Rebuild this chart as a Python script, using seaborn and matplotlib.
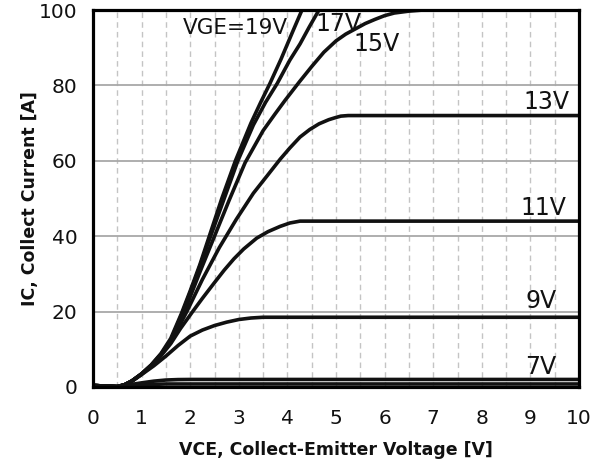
import numpy as np
import pandas as pd
import matplotlib
matplotlib.use("Agg")
import matplotlib.pyplot as plt
import seaborn as sns

# ---- data ----
vce_19 = [0, 0.25, 0.5, 0.65, 0.8, 1.0, 1.2, 1.4, 1.6, 1.82, 2.0, 2.2, 2.38, 2.65, 2.93, 3.25, 3.45, 3.64, 3.87, 4.1, 4.3]
ic_19 = [0.4, 0.25, 0.1, 0.6, 1.6, 3.5, 5.9, 8.9, 12.9, 19.5, 25.5, 32.5, 39.5, 50.0, 60.0, 70.0, 75.5, 80.5, 87.0, 94.0, 100.0]

vce_17 = [0, 0.25, 0.5, 0.65, 0.8, 1.0, 1.2, 1.4, 1.6, 1.85, 2.1, 2.42, 2.7, 2.98, 3.3, 3.55, 3.79, 4.05, 4.26, 4.45, 4.65]
ic_17 = [0.4, 0.25, 0.1, 0.6, 1.6, 3.5, 5.8, 8.7, 12.4, 20.0, 28.5, 40.0, 50.0, 60.0, 69.5, 75.5, 80.5, 86.7, 91.0, 95.5, 100.0]

vce_15 = [0, 0.25, 0.5, 0.65, 0.8, 1.0, 1.2, 1.4, 1.6, 1.88, 2.2, 2.5, 2.8, 3.13, 3.5, 3.75, 3.95, 4.25, 4.5, 4.75, 5.0, 5.2, 5.4, 5.6, 5.8, 6.0, 6.2, 6.5, 6.8, 10.0]
ic_15 = [0.4, 0.25, 0.1, 0.6, 1.6, 3.5, 5.8, 8.6, 12.1, 20.0, 30.5, 40.0, 49.5, 59.5, 68.0, 72.5, 76.0, 81.0, 85.0, 88.8, 91.8, 93.6, 95.0, 96.4, 97.5, 98.5, 99.2, 99.7, 100.0, 100.0]

vce_13 = [0, 0.25, 0.5, 0.65, 0.8, 1.0, 1.2, 1.4, 1.6, 1.93, 2.25, 2.6, 2.95, 3.3, 3.6, 3.85, 4.05, 4.26, 4.46, 4.65, 4.85, 5.0, 5.1, 5.25, 10.0]
ic_13 = [0.4, 0.25, 0.1, 0.6, 1.6, 3.4, 5.7, 8.5, 11.8, 20.0, 28.5, 37.0, 44.5, 51.4, 56.3, 60.4, 63.4, 66.3, 68.3, 69.8, 70.9, 71.5, 71.85, 72.0, 72.0]

vce_11 = [0, 0.25, 0.5, 0.65, 0.8, 1.0, 1.2, 1.4, 1.6, 1.8, 2.05, 2.25, 2.5, 2.7, 2.9, 3.1, 3.37, 3.6, 3.85, 4.05, 4.26, 10.0]
ic_11 = [0.4, 0.25, 0.1, 0.6, 1.6, 3.4, 5.6, 8.3, 11.5, 15.5, 20.0, 23.5, 27.7, 31.0, 34.0, 36.6, 39.5, 41.2, 42.6, 43.5, 44.0, 44.0]

vce_9 = [0, 0.25, 0.5, 0.65, 0.8, 1.0, 1.25, 1.5, 1.75, 2.0, 2.25, 2.5, 2.75, 3.0, 3.25, 3.5, 10.0]
ic_9 = [0.4, 0.25, 0.1, 0.6, 1.5, 3.3, 5.6, 8.2, 11.0, 13.5, 15.1, 16.3, 17.2, 17.9, 18.3, 18.5, 18.5]

vce_7 = [0, 0.25, 0.5, 0.75, 1.0, 1.25, 1.5, 1.75, 2.0, 10.0]
ic_7 = [0.4, 0.25, 0.1, 0.6, 1.1, 1.55, 1.85, 1.97, 2.0, 2.0]

vce_5 = [0, 0.25, 0.5, 0.75, 1.0, 1.5, 10.0]
ic_5 = [0.4, 0.25, 0.1, 0.4, 0.6, 0.8, 0.8]

curve_names = ["19V", "17V", "15V", "13V", "11V", "9V", "7V", "5V"]
curve_x = [vce_19, vce_17, vce_15, vce_13, vce_11, vce_9, vce_7, vce_5]
curve_y = [ic_19, ic_17, ic_15, ic_13, ic_11, ic_9, ic_7, ic_5]

label_texts = ["VGE=19V", "17V", "15V", "13V", "11V", "9V", "7V"]
label_x = [2.94, 5.04, 5.84, 9.32, 9.26, 9.22, 9.22]
label_y = [95.2, 96.3, 91.1, 75.7, 47.5, 22.7, 5.2]

x_ticks = list(range(0, 11))
y_ticks = [0, 20, 40, 60, 80, 100]
x_label = "VCE, Collect-Emitter Voltage [V]"
y_label = "IC, Collect Current [A]"

# ---- build long table ----
rows = []
for name, xs, ys in zip(curve_names, curve_x, curve_y):
    for i, (xv, yv) in enumerate(zip(xs, ys)):
        rows.append({"VGE": name, "VCE": xv, "IC": yv, "order": i})
df = pd.DataFrame(rows)

sns.set_theme(style="white")
plt.rcParams["font.family"] = ["DejaVu Sans"]
plt.rcParams["text.color"] = "#111111"
plt.rcParams["axes.labelcolor"] = "#111111"
plt.rcParams["xtick.color"] = "#111111"
plt.rcParams["ytick.color"] = "#111111"

fig = plt.figure(figsize=(5.93, 4.74), dpi=100)
ax = fig.add_axes([93 / 593, 1 - 387 / 474, 486 / 593, 377 / 474])

sns.lineplot(data=df, x="VCE", y="IC", hue="VGE", units="VGE", estimator=None,
             sort=False, palette=["#111111"] * len(curve_names), linewidth=2.6,
             legend=False, ax=ax, zorder=3)
for ln in ax.get_lines():
    ln.set_solid_joinstyle("round")
    ln.set_solid_capstyle("round")

ax.set_xlim(0, 10)
ax.set_ylim(0, 100)
ax.set_xticks(x_ticks)
ax.set_xticks(np.arange(0.5, 10, 1.0), minor=True)
ax.set_yticks(y_ticks)

ax.xaxis.grid(True, which="both", linestyle=(0, (4, 3)), color="#c4c4c4", linewidth=1.0)
ax.yaxis.grid(True, which="major", linestyle="-", color="#a8a8a8", linewidth=1.3)
ax.set_axisbelow(True)

ax.tick_params(axis="both", which="major", direction="out", length=7, width=2,
               color="black", labelsize=14.5)
ax.tick_params(axis="x", which="minor", length=0)
ax.tick_params(axis="x", which="major", top=False, pad=9)
ax.tick_params(axis="y", which="major", right=False, pad=4)

for side in ["left", "bottom", "top", "right"]:
    ax.spines[side].set_visible(True)
    ax.spines[side].set_color("black")
    ax.spines[side].set_linewidth(2.3)
    ax.spines[side].set_zorder(5)

ax.set_xlabel(x_label, fontsize=12.5, fontweight="bold")
ax.set_ylabel(y_label, fontsize=12.5, fontweight="bold")
ax.xaxis.label.set_va("center")
ax.yaxis.label.set_va("center")
ax.xaxis.set_label_coords(0.5, (387 - 450) / 377)
ax.yaxis.set_label_coords((30 - 93) / 486, 0.5)

for t, xv, yv in zip(label_texts, label_x, label_y):
    fs = 15.5 if t.startswith("VGE") else 17
    ax.text(xv, yv, t, fontsize=fs, ha="center", va="center", color="#111111", zorder=6)

fig.savefig("out.png", dpi=100)
